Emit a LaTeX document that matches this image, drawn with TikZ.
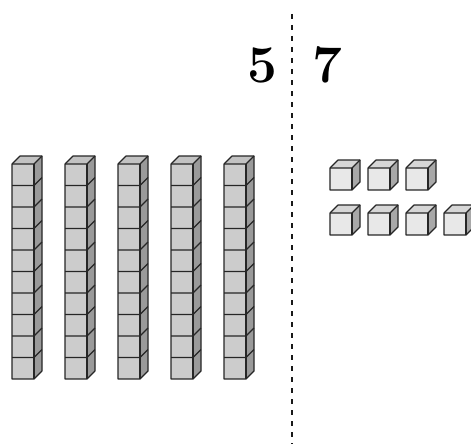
\documentclass[tikz,border=0pt]{standalone}
\usepackage{tikz}
\usetikzlibrary{positioning}
\definecolor{rodfront}{HTML}{CCCCCC}
\definecolor{rodside}{HTML}{9A9A9A}
\definecolor{rodtop}{HTML}{C2C2C2}
\definecolor{unitfront}{HTML}{E8E8E8}
\definecolor{unitside}{HTML}{A8A8A8}
\definecolor{unittop}{HTML}{D6D6D6}
\definecolor{edgegray}{HTML}{262626}
\tikzset{
    edge/.style={draw=edgegray,line width=1.2pt,line join=round},
    digit/.style={font=\fontsize{53}{60}\selectfont\bfseries,inner sep=0pt,anchor=base},
    divider/.style={line width=2.4pt,dash pattern=on 5pt off 6pt,draw=black!90},
    tenrod/.pic={
        % top, side, front of a rod of ten
        \fill[rodtop] (0,0) -- (8,-8) -- (30,-8) -- (22,0) -- cycle;
        \fill[rodside] (22,0) -- (30,-8) -- (30,207) -- (22,215) -- cycle;
        \fill[rodfront] (0,0) rectangle (22,215);
        \foreach \k in {1,...,9}
            \draw[edge] (0,21.5*\k) -- (22,21.5*\k) -- (30,21.5*\k-8);
        \draw[edge] (0,215) -- (0,0) -- (8,-8) -- (30,-8) -- (30,207) -- (22,215) -- cycle;
        \draw[edge] (0,0) -- (22,0) -- (30,-8);
        \draw[edge] (22,0) -- (22,215);
    },
    unitcube/.pic={
        \fill[unittop] (0,0) -- (8,-8) -- (30,-8) -- (22,0) -- cycle;
        \fill[unitside] (22,0) -- (30,-8) -- (30,14) -- (22,22) -- cycle;
        \fill[unitfront] (0,0) rectangle (22,22);
        \draw[edge] (0,22) -- (0,0) -- (8,-8) -- (30,-8) -- (30,14) -- (22,22) -- cycle;
        \draw[edge] (0,0) -- (22,0) -- (30,-8);
        \draw[edge] (22,0) -- (22,22);
    }
}
\begin{document}
\begin{tikzpicture}[x=1pt,y=-1pt]
    \useasboundingbox (0,0) rectangle (471,444);
    \clip (0,0) rectangle (471,444);

    % place value digits
    \node[digit] (tens) at (262,82) {5};
    \node[digit] (ones) at (327,82) {7};

    % divider
    \coordinate (divtop) at (292,14);
    \coordinate (divbot) at (292,444);
    \draw[divider] (divtop) -- (divbot);

    % five rods of ten
    \foreach \i in {0,...,4}
        \pic at (12+53*\i,164) {tenrod};

    % seven ones
    \foreach \i in {0,1,2}
        \pic at (330+38*\i,168) {unitcube};
    \foreach \i in {0,...,3}
        \pic at (330+38*\i,213) {unitcube};
\end{tikzpicture}
\end{document}
